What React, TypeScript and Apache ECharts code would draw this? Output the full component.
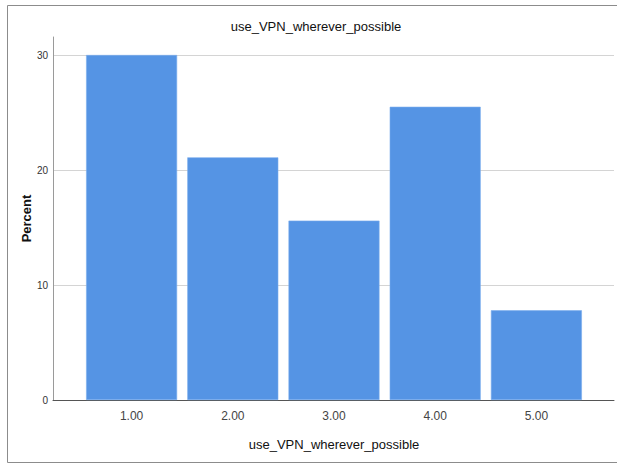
import React, { useEffect, useRef } from "react";
import * as echarts from "echarts";

const categories = ["1.00", "2.00", "3.00", "4.00", "5.00"];
const percentValues = [30.0, 21.1, 15.6, 25.5, 7.8];
const chartTitle = "use_VPN_wherever_possible";
const xAxisName = "use_VPN_wherever_possible";
const yAxisName = "Percent";

const FONT = "'Liberation Sans', Arial, sans-serif";

export default function App() {
  const ref = useRef<HTMLDivElement>(null);
  useEffect(() => {
    if (!ref.current) return;
    const chart = echarts.init(ref.current, null, { renderer: "svg" });
    chart.setOption({
      animation: false,
      backgroundColor: "#ffffff",
      title: {
        text: chartTitle,
        left: 311,
        textAlign: "center",
        top: 15,
        textStyle: { fontFamily: FONT, fontSize: 13, fontWeight: "normal", color: "#111" },
      },
      graphic: [
        {
          type: "polyline",
          silent: true,
          shape: { points: [[640, 5.5], [7.5, 5.5], [7.5, 462.5], [640, 462.5]] },
          style: { stroke: "#8c8c8c", lineWidth: 1, fill: "none" },
        },
      ],
      grid: [
        { left: 53, right: 3, top: 37, bottom: 64 },
        { left: 53, right: 3, top: 55, bottom: 64 },
        { left: 81, right: 30, top: 55, bottom: 64 },
      ],
      xAxis: [
        { gridIndex: 0, type: "value", show: false },
        {
          gridIndex: 1,
          type: "value",
          min: 0,
          max: 1,
          axisLine: { show: true, lineStyle: { color: "#555", width: 1 } },
          axisTick: { show: false },
          axisLabel: { show: false },
          splitLine: { show: false },
        },
        {
          gridIndex: 2,
          type: "category",
          data: categories,
          axisLine: { show: false },
          axisTick: { show: false },
          axisLabel: { fontFamily: FONT, fontSize: 12, color: "#444", margin: 10 },
          name: xAxisName,
          nameLocation: "middle",
          nameGap: 38,
          nameTextStyle: { fontFamily: FONT, fontSize: 13, color: "#111" },
        },
      ],
      yAxis: [
        {
          gridIndex: 0,
          type: "value",
          min: 0,
          max: 31.6,
          axisLine: { show: true, lineStyle: { color: "#9a9a9a", width: 1 } },
          axisTick: { show: false },
          axisLabel: { show: false },
          splitLine: { show: false },
          name: yAxisName,
          nameLocation: "middle",
          nameGap: 20,
          nameTextStyle: { fontFamily: FONT, fontSize: 13, fontWeight: "bold", color: "#111" },
        },
        {
          gridIndex: 1,
          type: "value",
          min: 0,
          max: 30,
          interval: 10,
          axisLine: { show: false },
          axisTick: { show: false },
          axisLabel: { fontFamily: FONT, fontSize: 10, color: "#333", margin: 5 },
          splitLine: { show: true, lineStyle: { color: "#d4d4d4", width: 1 } },
        },
        { gridIndex: 2, type: "value", min: 0, max: 30, show: false },
      ],
      series: [
        {
          type: "bar",
          xAxisIndex: 2,
          yAxisIndex: 2,
          data: percentValues,
          barWidth: 91,
          itemStyle: { color: "#5594e4", borderColor: "#7aacec", borderWidth: 0.6 },
        },
      ],
    });
    return () => chart.dispose();
  }, []);
  return (
    <div
      ref={ref}
      style={{ position: "fixed", left: 0, top: 0, width: 617, height: 464 }}
    />
  );
}
